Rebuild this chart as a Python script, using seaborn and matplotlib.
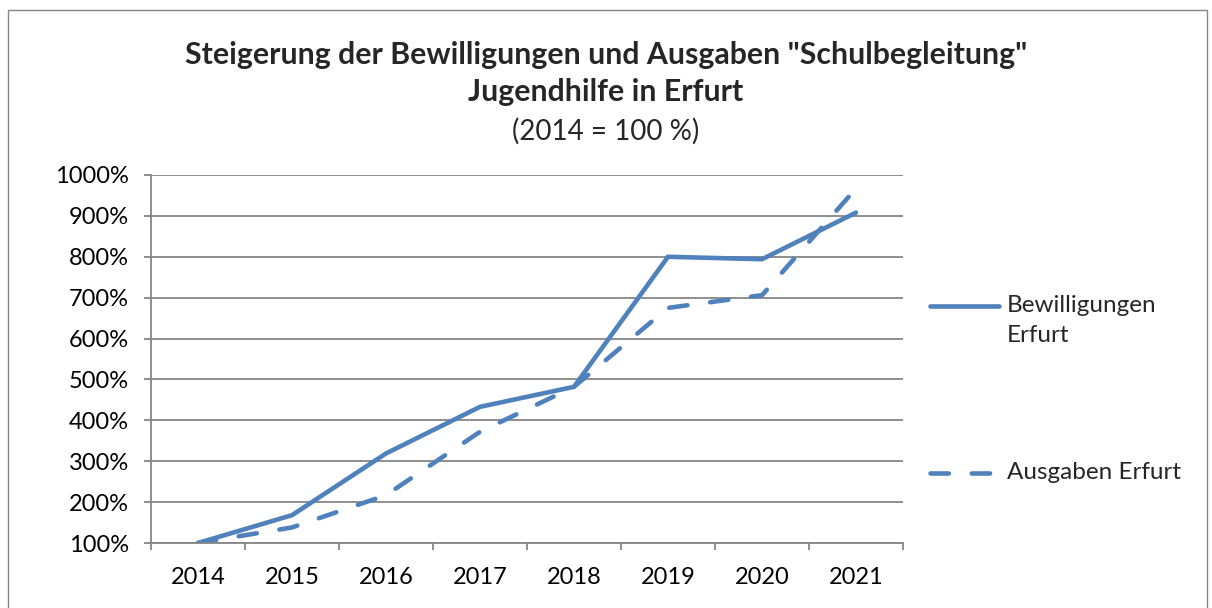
import matplotlib
matplotlib.use("Agg")
import matplotlib.pyplot as plt
import seaborn as sns
import pandas as pd
from matplotlib.lines import Line2D
from matplotlib.patches import Rectangle

years = ["2014", "2015", "2016", "2017", "2018", "2019", "2020", "2021"]
bewilligungen = [100, 168, 319, 433, 482, 800, 794, 908]
ausgaben = [100, 138, 217, 372, 482, 675, 706, 967]
series_names = ["Bewilligungen Erfurt", "Ausgaben Erfurt"]
legend_labels = ["Bewilligungen\nErfurt", "Ausgaben Erfurt"]
y_ticks = [100, 200, 300, 400, 500, 600, 700, 800, 900, 1000]

df = pd.DataFrame({
    "Jahr": years * 2,
    "Wert": bewilligungen + ausgaben,
    "Serie": [series_names[0]] * len(years) + [series_names[1]] * len(years),
})

sns.set_theme(style="white")
FONT = ["Lato", "DejaVu Sans"]
plt.rcParams["font.family"] = FONT

BLUE = "#4F81BD"
GRAY = "#868686"
LW = 3.3

fig = plt.figure(figsize=(12.12, 6.08), dpi=100)
fig.patch.set_facecolor("white")
fig.add_artist(Rectangle((8 / 1212, -0.1), 1199 / 1212, 1.1 - 10 / 608,
                         transform=fig.transFigure, fill=False,
                         edgecolor=GRAY, linewidth=1.0))

ax = fig.add_axes([151 / 1212, 1 - 543 / 608, 752 / 1212, 368 / 608])

sns.lineplot(data=df, x="Jahr", y="Wert", hue="Serie", style="Serie",
             palette=[BLUE, BLUE], dashes={series_names[0]: "", series_names[1]: (4, 5)},
             linewidth=LW, legend=False, ax=ax, sort=False)
for ln in ax.get_lines():
    ln.set_solid_capstyle("round")
    ln.set_dash_capstyle("round")
    ln.set_solid_joinstyle("miter")

ax.set_xlim(-0.5, len(years) - 0.5)
ax.set_ylim(100, 1000)
ax.set_yticks(y_ticks)
ax.set_yticklabels([f"{v}%" for v in y_ticks])
ax.set_xticks(range(len(years)))
ax.set_xticklabels(years)
ax.set_xticks([i - 0.5 for i in range(len(years) + 1)], minor=True)
ax.set_xlabel("")
ax.set_ylabel("")

ax.grid(axis="y", color=GRAY, linewidth=1.3)
ax.set_axisbelow(True)
for s in ["top", "right"]:
    ax.spines[s].set_visible(False)
for s in ["left", "bottom"]:
    ax.spines[s].set_color(GRAY)
    ax.spines[s].set_linewidth(1.3)

ax.tick_params(axis="y", which="major", direction="out", length=5, width=1.3,
               color=GRAY, labelsize=17, pad=11, left=True)
ax.tick_params(axis="x", which="major", length=0, labelsize=17, pad=17)
ax.tick_params(axis="x", which="minor", direction="out", length=5, width=1.3,
               color=GRAY, bottom=True)
for t in ax.get_xticklabels() + ax.get_yticklabels():
    t.set_color("black")

# Title
fig.text(0.5, 1 - 55 / 608, 'Steigerung der Bewilligungen und Ausgaben "Schulbegleitung"',
         ha="center", va="center", fontsize=21.8, fontweight="bold")
fig.text(0.5, 1 - 92 / 608, "Jugendhilfe in Erfurt",
         ha="center", va="center", fontsize=21.8, fontweight="bold")
fig.text(0.5, 1 - 131 / 608, "(2014 = 100 %)",
         ha="center", va="center", fontsize=20)

# Legend
leg_y = [306, 473]
leg_x_end = [999, 994]
styles = ["-", (0, (4, 5))]
for y, xe, st, lab in zip(leg_y, leg_x_end, styles, legend_labels):
    fy = 1 - y / 608
    fig.add_artist(Line2D([930 / 1212, xe / 1212], [fy, fy], transform=fig.transFigure,
                          color=BLUE, linewidth=LW, linestyle=st,
                          solid_capstyle="round", dash_capstyle="round"))
    fig.text(1007 / 1212, fy + 11 / 608, lab, ha="left", va="top", fontsize=17.5,
             linespacing=1.5)

fig.savefig("out.png", dpi=100, facecolor="white")
